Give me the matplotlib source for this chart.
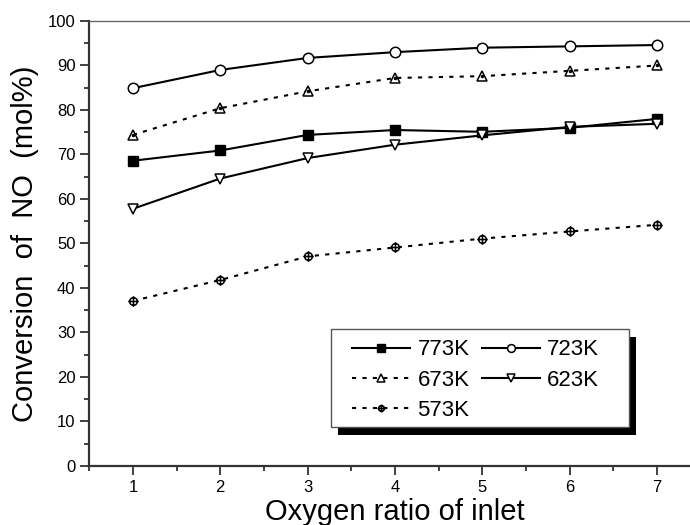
import numpy as np
import matplotlib
matplotlib.use('Agg')
import matplotlib.pyplot as plt
from matplotlib.path import Path
from matplotlib.patches import Rectangle
from matplotlib.ticker import MultipleLocator

plt.rcParams['font.family'] = ['Liberation Sans', 'DejaVu Sans']

# oxygen ratio of inlet
ratio = [1, 2, 3, 4, 5, 6, 7]

# NO conversion (mol%) at each temperature
conv_773 = [68.6, 70.9, 74.4, 75.5, 75.1, 76.0, 78.0]
conv_723 = [84.9, 89.0, 91.7, 93.0, 94.0, 94.3, 94.6]
conv_673 = [74.4, 80.4, 84.2, 87.2, 87.6, 88.8, 90.0]
conv_623 = [57.8, 64.6, 69.2, 72.2, 74.3, 76.2, 76.9]
conv_573 = [37.1, 41.8, 47.1, 49.1, 51.1, 52.7, 54.2]

# circle with a cross through it
circ = Path.unit_circle()
cross = Path([(-1.35, 0), (1.35, 0), (0, -1.35), (0, 1.35)],
             [Path.MOVETO, Path.LINETO, Path.MOVETO, Path.LINETO])
oplus = Path.make_compound_path(circ, cross)

W, H = 690, 525
fig = plt.figure(figsize=(W / 100, H / 100), dpi=100)
ax = fig.add_axes([0.1294, 0.1124, 0.886, 0.8476])

lw = 1.5
l773, = ax.plot(ratio, conv_773, '-', color='black', lw=lw, marker='s', ms=7,
                mfc='black', mec='black')
l723, = ax.plot(ratio, conv_723, '-', color='black', lw=lw, marker='o', ms=7.5,
                mfc='white', mec='black', mew=1.1)
l673, = ax.plot(ratio, conv_673, color='black', lw=lw, ls=(0, (2, 3)),
                marker='^', ms=7.5, mfc='white', mec='black', mew=1.1)
# small dot inside each triangle
ax.plot(ratio, conv_673, ls='none', marker='o', ms=1.5,
        mfc='black', mec='black')
l623, = ax.plot(ratio, conv_623, '-', color='black', lw=lw, marker='v', ms=7.5,
                mfc='white', mec='black', mew=1.1)
l573, = ax.plot(ratio, conv_573, color='black', lw=lw, ls=(0, (2, 3)),
                marker=oplus, ms=7.5, mfc='white', mec='black', mew=1.1)

ax.set_xlim(0.5, 7.5)
ax.set_ylim(0, 100)
ax.xaxis.set_major_locator(MultipleLocator(1))
ax.xaxis.set_minor_locator(MultipleLocator(0.5))
ax.yaxis.set_major_locator(MultipleLocator(10))
ax.yaxis.set_minor_locator(MultipleLocator(5))
ax.tick_params(which='both', direction='out', width=1.3, color='#333333',
               top=False, right=False, labelsize=12)
ax.tick_params(which='major', length=6.5)
ax.tick_params(which='minor', length=3.6)

for side in ['left', 'bottom']:
    ax.spines[side].set_linewidth(1.6)
    ax.spines[side].set_color('#333333')
ax.spines['top'].set_linewidth(1.0)
ax.spines['top'].set_color('#666666')
ax.spines['right'].set_visible(False)

ax.set_xlabel('Oxygen ratio of inlet', fontsize=21, labelpad=2)
ax.set_ylabel('Conversion  of  NO  (mol%)', fontsize=21, labelpad=6)

# legend box with a solid drop shadow, drawn in figure pixels
bx, by, bw, bh = 331, 427, 298, 98
shadow = Rectangle(((bx + 7) / W, 1 - (by + 8) / H), bw / W, bh / H,
                   transform=fig.transFigure, facecolor='black',
                   edgecolor='none', zorder=4, clip_on=False)
frame = Rectangle((bx / W, 1 - by / H), bw / W, bh / H,
                  transform=fig.transFigure, facecolor='white',
                  edgecolor='#555555', lw=1.0, zorder=4.5, clip_on=False)
ax.add_patch(shadow)
ax.add_patch(frame)

handles = [l773, l673, l573, l723, l623]
labels = ['773K', '673K', '573K', '723K', '623K']
leg = ax.legend(handles, labels, ncol=2, loc='upper left',
                bbox_to_anchor=(342 / W, 1 - 329.3 / H),
                bbox_transform=fig.transFigure,
                borderaxespad=0, fontsize=16, handlelength=2.6,
                handletextpad=0.35, columnspacing=0.55, labelspacing=0.42,
                borderpad=0.45, frameon=False, markerscale=0.75)
leg.set_zorder(5)

fig.savefig('out.png', dpi=100)
